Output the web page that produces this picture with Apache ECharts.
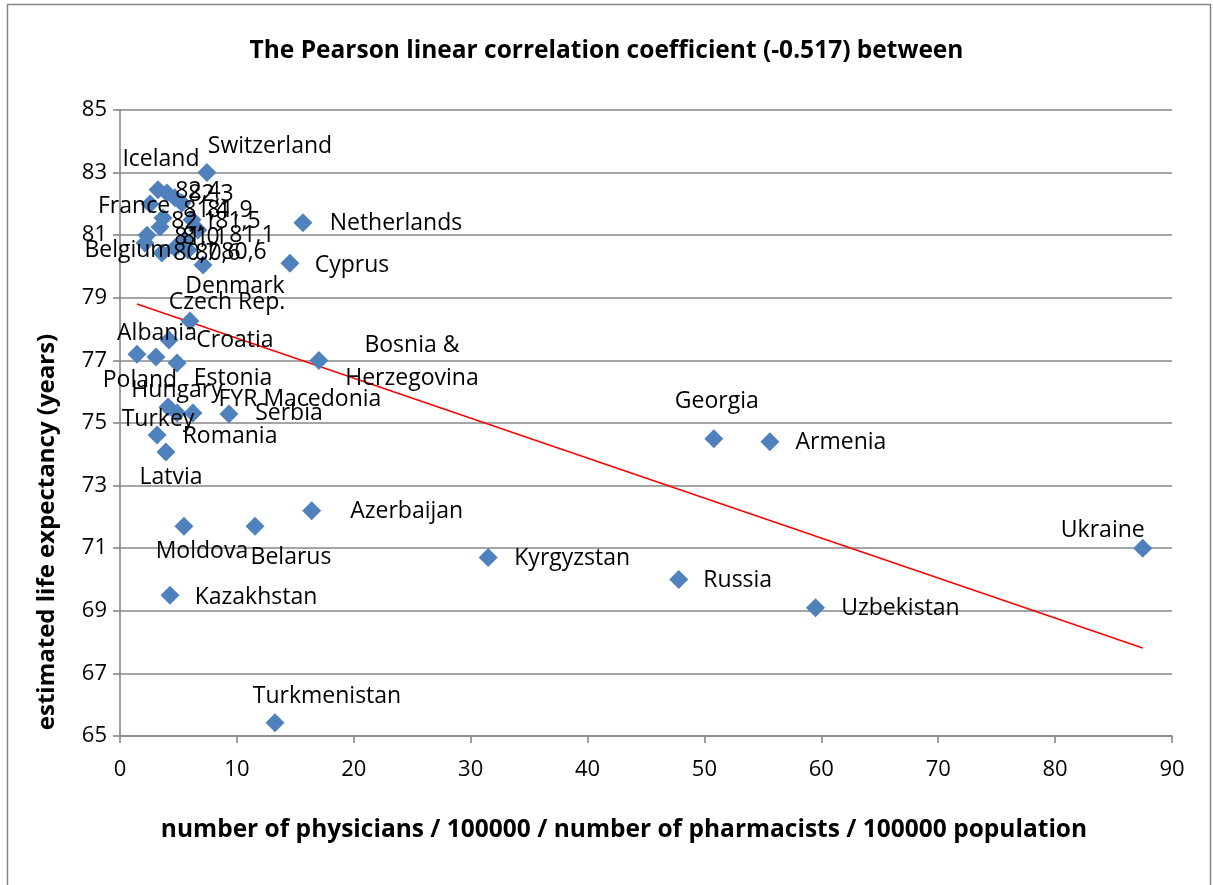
<!DOCTYPE html>
<html>
<head>
<meta charset="utf-8">
<script src="https://cdn.jsdelivr.net/npm/echarts@6/dist/echarts.min.js"></script>
<style>
html,body{margin:0;padding:0;background:#fff;}
#chart{width:1213px;height:885px;}
</style>
</head>
<body>
<div id="chart"></div>
<script>
// ---- data ----
const labels = [
  "Switzerland","Netherlands","Cyprus","Iceland","82,4","82,3","81,9","France","82,1","81,4",
  "81,5","81,1","81,0","Belgium","80,7","81,1","80,6","80,6","Denmark","Czech Rep.",
  "Albania","Poland","Croatia","Estonia","Bosnia &\nHerzegovina","Turkey","Hungary","FYR Macedonia","Serbia","Romania",
  "Latvia","Georgia","Armenia","Azerbaijan","Moldova","Belarus","Ukraine","Kyrgyzstan","Russia","Uzbekistan",
  "Kazakhstan","Turkmenistan"
];
const xValues = [
  7.44,15.65,14.54,3.25,4.02,4.70,5.30,2.57,3.68,3.42,
  6.16,6.67,2.31,2.14,3.59,5.56,4.70,5.82,7.10,5.99,
  3.08,1.45,4.19,4.88,17.02,4.11,4.88,6.24,9.32,3.17,
  3.93,50.8,55.6,16.4,5.47,11.55,87.5,31.5,47.8,59.5,
  4.28,13.26
];
const yValues = [
  83.0,81.4,80.1,82.45,82.35,82.2,82.03,82.0,81.55,81.26,
  81.49,81.17,81.0,80.75,80.43,80.85,80.59,80.53,80.05,78.26,
  77.11,77.2,77.65,76.92,77.0,75.51,75.32,75.32,75.29,74.62,
  74.07,74.5,74.4,72.2,71.7,71.7,71.0,70.7,70.0,69.1,
  69.5,65.42
];
// trend line end points
const trendX = [1.45, 87.5];
const trendY = [78.8, 67.81];
const xTicks = [0,10,20,30,40,50,60,70,80,90];
const yTicks = [65,67,69,71,73,75,77,79,81,83,85];

// ---- label placement (layout only) : offset of label centre from marker centre ----
const labelOffsets = [
  [63,-26],[93,1],[62,2],[3,-30],[31,-1],[36,-3],[48,7],[-16,3],[31,3],[46,-17],
  [46,2],[54,6],[50,2],[-17,7],[34,0],[20,-2],[43,5],[56,3],[32,22],[37,-19],
  [1,-24],[3,26],[66,0],[56,16],[93,2],[-10,12],[0,-23],[107,-14],[60,0],[73,2],
  [5,25],[3,-37],[71,1],[95,1],[18,25],[36,31],[-40,-18],[84,1],[59,1],[85,1],
  [86,2],[52,-26]
];

const FONT = '"Open Sans"';
const pts = xValues.map((x, i) => ({
  value: [x, yValues[i]],
  name: labels[i],
  label: {
    show: true,
    position: 'inside',
    offset: labelOffsets[i],
    formatter: labels[i],
    color: '#000',
    fontFamily: FONT,
    fontSize: 23,
    lineHeight: 33,
    align: 'center',
    verticalAlign: 'middle'
  }
}));

const chart = echarts.init(document.getElementById('chart'), null, {renderer: 'canvas'});
chart.setOption({
  animation: false,
  backgroundColor: '#fff',
  title: {
    text: 'The Pearson linear correlation coefficient (-0.517) between',
    left: 'center',
    top: 34,
    textStyle: {fontFamily: FONT, fontWeight: 'bold', fontSize: 24.5, color: '#000'}
  },
  grid: {left: 120, right: 41, top: 110, bottom: 149, containLabel: false},
  xAxis: {
    type: 'value',
    min: xTicks[0], max: xTicks[xTicks.length-1], interval: 10,
    axisLine: {show: true, onZero: false, lineStyle: {color: '#878787', width: 1.6}},
    axisTick: {show: true, length: 7, lineStyle: {color: '#878787', width: 1.6}},
    axisLabel: {margin: 23, fontFamily: FONT, fontSize: 22, color: '#000'},
    splitLine: {show: false}
  },
  yAxis: {
    type: 'value',
    min: yTicks[0], max: yTicks[yTicks.length-1], interval: 2,
    axisLine: {show: true, onZero: false, lineStyle: {color: '#878787', width: 1.6}},
    axisTick: {show: true, length: 7, lineStyle: {color: '#878787', width: 1.6}},
    axisLabel: {margin: 13, fontFamily: FONT, fontSize: 22, color: '#000'},
    splitLine: {show: true, lineStyle: {color: '#878787', width: 1.6}}
  },
  graphic: [
    {
      type: 'rect', z: -1, silent: true,
      shape: {x: 7.5, y: 4.5, width: 1203, height: 900},
      style: {fill: 'none', stroke: '#878787', lineWidth: 1.5}
    },
    {
      type: 'text', x: 47, y: 532, rotation: Math.PI/2,
      style: {text: 'estimated life expectancy (years)', fontFamily: FONT, fontWeight: 'bold', fontSize: 24, fill: '#000', align: 'center', verticalAlign: 'middle'}
    },
    {
      type: 'text', x: 624, y: 830,
      style: {text: 'number of physicians / 100000 / number of pharmacists / 100000 population', fontFamily: FONT, fontWeight: 'bold', fontSize: 24.5, fill: '#000', align: 'center', verticalAlign: 'middle'}
    }
  ],
  series: [
    {
      type: 'scatter',
      symbol: 'diamond',
      symbolSize: 19,
      itemStyle: {color: '#4F81BD', opacity: 1},
      data: pts,
      z: 3
    },
    {
      type: 'line',
      data: trendX.map((x, i) => [x, trendY[i]]),
      symbol: 'none',
      lineStyle: {color: '#FF0000', width: 1.5},
      z: 2,
      silent: true
    }
  ]
});
</script>
</body>
</html>
